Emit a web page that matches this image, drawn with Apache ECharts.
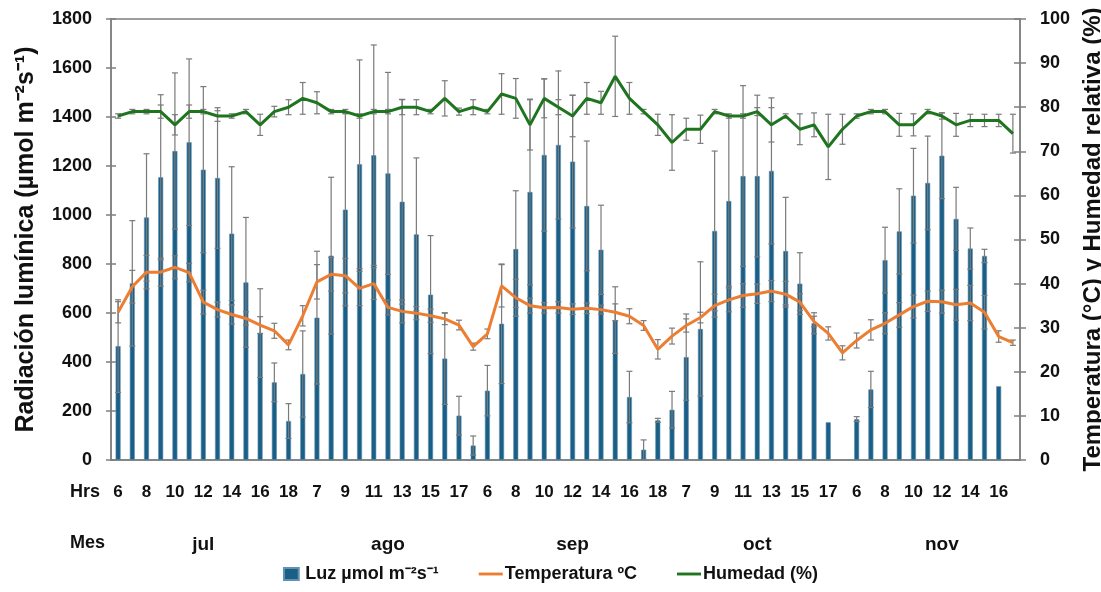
<!DOCTYPE html>
<html>
<head>
<meta charset="utf-8">
<script src="https://cdn.jsdelivr.net/npm/echarts@6/dist/echarts.min.js"></script>
<style>
html,body{margin:0;padding:0;background:#fff;}
#c{width:1101px;height:592px;}
</style>
</head>
<body>
<div id="c"></div>
<script>
const months = ['jul', 'ago', 'sep', 'oct', 'nov'];
const hoursByMonth = [
  [6, 7, 8, 9, 10, 11, 12, 13, 14, 15, 16, 17, 18],
  [6, 7, 8, 9, 10, 11, 12, 13, 14, 15, 16, 17, 18],
  [6, 7, 8, 9, 10, 11, 12, 13, 14, 15, 16, 17, 18],
  [6, 7, 8, 9, 10, 11, 12, 13, 14, 15, 16, 17, 18],
  [6, 7, 8, 9, 10, 11, 12, 13, 14, 15, 16, 17]
];
// Luz (µmol m-2 s-1)
const luz = [465, 721, 990, 1154, 1261, 1297, 1185, 1151, 924, 725, 518, 317, 159,
  351, 581, 834, 1022, 1207, 1244, 1170, 1054, 921, 675, 414, 181, 59,
  283, 556, 861, 1094, 1245, 1286, 1218, 1037, 858, 571, 257, 42, 162,
  205, 420, 535, 935, 1057, 1159, 1159, 1180, 853, 720, 558, 154, null,
  167, 288, 816, 933, 1079, 1131, 1242, 984, 863, 833, 301, null];
const luzErr = [189, 256, 260, 337, 319, 340, 339, 287, 273, 265, 181, 79, 71,
  176, 271, 320, 393, 426, 450, 412, 418, 312, 241, 187, 79, 39,
  103, 244, 238, 379, 311, 302, 271, 265, 182, 136, 105, 40, 8,
  75, 176, 274, 326, 348, 369, 330, 298, 219, 126, 43, 0, null,
  10, 74, 134, 174, 193, 191, 175, 129, 84, 27, 0, null];
// Temperatura (°C)
const temp = [33.5, 39.3, 42.6, 42.6, 43.7, 42.5, 35.8, 34.1, 33.0, 32.1, 30.6, 29.3, 26.1,
  32.7, 40.4, 42.1, 41.8, 38.9, 40.0, 34.6, 33.7, 33.3, 32.7, 32.0, 30.6, 25.7,
  28.6, 39.5, 36.8, 35.0, 34.5, 34.6, 34.2, 34.4, 34.1, 33.5, 32.6, 30.5, 25.1,
  28.1, 30.5, 32.3, 35.0, 36.3, 37.3, 37.7, 38.3, 37.6, 35.8, 31.4, 28.7, 24.3,
  27.1, 29.5, 31.0, 32.9, 34.8, 36.0, 35.9, 35.2, 35.6, 33.5, 28.0, 26.6];
const tempErr = [2.4, 3.7, 3.8, 3.2, 2.6, 2.1, 2.7, 1.7, 2.2, 1.5, 1.9, 1.7, 1.1,
  2.3, 3.9, 3.8, 3.9, 3.9, 3.6, 1.7, 2.6, 1.5, 1.5, 1.3, 1.1, 0.8,
  1.1, 4.8, 4.2, 1.7, 1.2, 1.3, 1.2, 1.2, 1.0, 1.9, 1.7, 1.1, 2.2,
  1.8, 1.5, 1.2, 2.6, 2.7, 2.7, 2.2, 2.4, 2.9, 1.9, 1.2, 1.5, 1.6,
  1.7, 2.3, 2.4, 2.8, 2.6, 2.3, 2.6, 3.5, 4.0, 3.8, 1.3, 0.6];
// Humedad relativa (%)
const hum = [78, 79, 79, 79, 76, 79, 79, 78, 78, 79, 76, 79, 80,
  82, 81, 79, 79, 78, 79, 79, 80, 80, 79, 82, 79, 80,
  79, 83, 82, 76, 82, 80, 78, 82, 81, 87, 82, 79, 76,
  72, 75, 75, 79, 78, 78, 79, 76, 78, 75, 76, 71, 75,
  78, 79, 79, 76, 76, 79, 78, 76, 77, 77, 77, 74];
const humErr = [0.5, 0.5, 0.5, 1.5, 2.3, 1.5, 0.5, 1.2, 0.5, 0.5, 2.4, 1.2, 1.7,
  3.6, 2.5, 0.5, 0.5, 0.5, 0.5, 0.5, 1.7, 1.7, 0.5, 4.0, 0.8, 1.7,
  0.5, 4.6, 4.5, 5.7, 4.4, 1.7, 4.7, 3.6, 2.6, 9.1, 3.6, 0.5, 2.4,
  6.3, 2.5, 3.2, 0.5, 0.5, 0.5, 0.9, 3.9, 0.5, 3.5, 2.7, 7.4, 3.4,
  0.5, 0.5, 0.5, 2.6, 2.5, 0.5, 0.7, 2.6, 1.4, 1.4, 1.4, 4.4];
const leftTicks = { min: 0, max: 1800, interval: 200 };
const rightTicks = { min: 0, max: 100, interval: 10 };

const categories = [];
const monthCenter = {};
months.forEach((m, k) => {
  const start = categories.length;
  hoursByMonth[k].forEach(h => categories.push(m + ' ' + h));
  monthCenter[start + Math.floor(hoursByMonth[k].length / 2)] = true;
});

const FONT = 'Liberation Sans, Arial, sans-serif';
const ERR_COLOR = '#7a7a7a';

function errRender(params, api) {
  const v = api.value(1), e = api.value(2);
  if (v == null || isNaN(v) || e == null || isNaN(e) || e <= 0) return null;
  const x = api.value(0);
  const top = api.coord([x, v + e]);
  const bot = api.coord([x, v - e]);
  const w = 3;
  const st = { stroke: ERR_COLOR, lineWidth: 1.2 };
  return {
    type: 'group',
    children: [
      { type: 'line', shape: { x1: top[0], y1: top[1], x2: bot[0], y2: bot[1] }, style: st },
      { type: 'line', shape: { x1: top[0] - w, y1: top[1], x2: top[0] + w, y2: top[1] }, style: st },
      { type: 'line', shape: { x1: bot[0] - w, y1: bot[1], x2: bot[0] + w, y2: bot[1] }, style: st }
    ]
  };
}

const chart = echarts.init(document.getElementById('c'), null, { renderer: 'canvas' });
const gridPos = { left: 111, right: 81, top: 19, bottom: 132, outerBoundsMode: 'none', containLabel: false };
const axisGray = '#7f7f7f';
const yLabel = { color: '#111', fontFamily: FONT, fontWeight: 'bold', fontSize: 18, formatter: v => String(v) };
const lineIcon = 'path://M0,0L30,0L30,3.6L0,3.6Z';

chart.setOption({
  animation: false,
  backgroundColor: '#fff',
  grid: [
    Object.assign({ show: true, borderColor: axisGray, borderWidth: 1.5 }, gridPos),
    Object.assign({ show: false }, gridPos)
  ],
  legend: {
    bottom: 4,
    left: 'center',
    itemWidth: 24,
    itemHeight: 12,
    itemGap: 40,
    textStyle: { fontFamily: FONT, fontWeight: 'bold', fontSize: 18, color: '#111', padding: [0, 0, 0, -3] },
    data: [
      { name: 'Luz µmol m⁻²s⁻¹', icon: 'path://M0,0L16,0L16,13L0,13Z' },
      { name: 'Temperatura ºC', icon: lineIcon },
      { name: 'Humedad (%)', icon: lineIcon }
    ]
  },
  xAxis: [
    {
      type: 'category', gridIndex: 0, data: categories, position: 'bottom',
      axisLine: { lineStyle: { color: axisGray, width: 1.5 } },
      axisTick: { show: false },
      axisLabel: {
        interval: 1, margin: 24, color: '#111', fontFamily: FONT, fontWeight: 'bold', fontSize: 17,
        formatter: v => v.split(' ')[1]
      },
      splitLine: { show: false }
    },
    {
      type: 'category', gridIndex: 1, data: categories, position: 'bottom',
      axisLine: { show: false }, axisTick: { show: false },
      axisLabel: {
        interval: (i) => !!monthCenter[i], margin: 75, color: '#111', fontFamily: FONT,
        fontWeight: 'bold', fontSize: 19, formatter: v => v.split(' ')[0]
      },
      splitLine: { show: false }
    }
  ],
  yAxis: [
    Object.assign({
      type: 'value', gridIndex: 0, position: 'left',
      name: 'Radiación lumínica (µmol m⁻²s⁻¹)', nameLocation: 'middle', nameGap: 72, nameRotate: 90,
      nameTextStyle: { fontFamily: FONT, fontWeight: 'bold', fontSize: 25, color: '#111' },
      axisLine: { show: true, lineStyle: { color: axisGray, width: 1.5 } },
      axisTick: { show: true, length: 5, lineStyle: { color: axisGray, width: 1.5 } },
      axisLabel: Object.assign({ margin: 19 }, yLabel),
      splitLine: { show: false }
    }, leftTicks),
    Object.assign({
      type: 'value', gridIndex: 0, position: 'right',
      name: 'Temperatura (°C) y Humedad relativa (%)', nameLocation: 'middle', nameGap: 51, nameRotate: 90,
      nameTextStyle: { fontFamily: FONT, fontWeight: 'bold', fontSize: 24, color: '#111' },
      axisLine: { show: true, lineStyle: { color: axisGray, width: 1.5 } },
      axisTick: { show: true, length: 6, lineStyle: { color: axisGray, width: 1.5 } },
      axisLabel: Object.assign({ margin: 20 }, yLabel),
      splitLine: { show: false }
    }, rightTicks),
    Object.assign({
      type: 'value', gridIndex: 0, position: 'left',
      axisLine: { show: false }, axisLabel: { show: false }, splitLine: { show: false },
      axisTick: { show: true, inside: true, length: 5, lineStyle: { color: axisGray, width: 1.5 } }
    }, leftTicks),
    Object.assign({
      type: 'value', gridIndex: 0, position: 'right',
      axisLine: { show: false }, axisLabel: { show: false }, splitLine: { show: false },
      axisTick: { show: true, inside: true, length: 6, lineStyle: { color: axisGray, width: 1.5 } }
    }, rightTicks),
    { type: 'value', gridIndex: 1, show: false }
  ],
  graphic: [
    { type: 'text', left: 70, top: 483, style: { text: 'Hrs', fontFamily: FONT, fontWeight: 'bold', fontSize: 18, fill: '#111' } },
    { type: 'text', left: 70, top: 534, style: { text: 'Mes', fontFamily: FONT, fontWeight: 'bold', fontSize: 18, fill: '#111' } }
  ],
  series: [
    {
      name: 'Luz µmol m⁻²s⁻¹', type: 'bar', xAxisIndex: 0, yAxisIndex: 0,
      data: luz, barWidth: 5,
      itemStyle: { color: '#1c5f86', borderColor: '#5f93b3', borderWidth: 0.6 },
      z: 2
    },
    {
      name: 'luzErr', type: 'custom', xAxisIndex: 0, yAxisIndex: 0,
      renderItem: errRender, encode: { x: 0, y: 1 },
      data: luz.map((v, i) => [i, v, luzErr[i]]), z: 3, silent: true
    },
    {
      name: 'tempErr', type: 'custom', xAxisIndex: 0, yAxisIndex: 1,
      renderItem: errRender, encode: { x: 0, y: 1 },
      data: temp.map((v, i) => [i, v, tempErr[i]]), z: 3, silent: true
    },
    {
      name: 'humErr', type: 'custom', xAxisIndex: 0, yAxisIndex: 1,
      renderItem: errRender, encode: { x: 0, y: 1 },
      data: hum.map((v, i) => [i, v, humErr[i]]), z: 3, silent: true
    },
    {
      name: 'Temperatura ºC', type: 'line', xAxisIndex: 0, yAxisIndex: 1,
      data: temp, symbol: 'none', lineStyle: { color: '#ed7d31', width: 3 },
      itemStyle: { color: '#ed7d31' }, z: 4
    },
    {
      name: 'Humedad (%)', type: 'line', xAxisIndex: 0, yAxisIndex: 1,
      data: hum, symbol: 'none', lineStyle: { color: '#1f751f', width: 3 },
      itemStyle: { color: '#1f751f' }, z: 4
    }
  ]
});
</script>
</body>
</html>
